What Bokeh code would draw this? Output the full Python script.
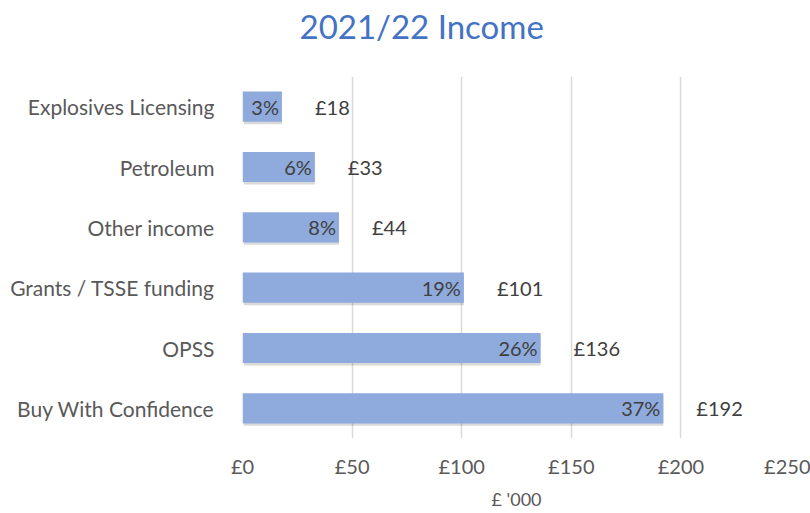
from bokeh.plotting import figure
from bokeh.models import (FactorRange, Range1d, FixedTicker, ColumnDataSource, Title,
                          LinearAxis)
from bokeh.transform import dodge
from bokeh.core.properties import value
from bokeh.embed import file_html
from bokeh.resources import INLINE

categories = ["Explosives Licensing", "Petroleum", "Other income",
              "Grants / TSSE funding", "OPSS", "Buy With Confidence"]
income = [18, 33, 44, 101, 136, 192]
shares = ["3%", "6%", "8%", "19%", "26%", "37%"]
value_labels = ["£18", "£33", "£44", "£101", "£136", "£192"]
tick_values = [0, 50, 100, 150, 200, 250]
tick_labels = ["£0", "£50", "£100", "£150", "£200", "£250"]
title_text = "2021/22 Income"
axis_title = "£ '000"

FONT = "Lato"
src = ColumnDataSource(dict(cat=categories, income=income, share=shares, vlab=value_labels))

p = figure(width=810, height=513,
           y_range=FactorRange(factors=categories[::-1]),
           x_range=Range1d(0, 250),
           output_backend="svg", toolbar_location=None,
           min_border_left=242, min_border_right=20,
           min_border_top=76, min_border_bottom=75)
p.outline_line_color = None
p.background_fill_color = "white"

# shadow
p.hbar(y=dodge("cat", -0.04, range=p.y_range), left=0.6, right="income", height=0.5,
       source=src, fill_color="#000000", fill_alpha=0.15, line_color=None)
p.hbar(y="cat", left=0, right="income", height=0.5, source=src,
       fill_color="#8FAADC", line_color=None)

p.text(x="income", y="cat", text="share", source=src, x_offset=-3,
       text_align="right", text_baseline="middle", text_font=value(FONT),
       text_font_size="20px", text_color="#404040")
p.text(x="income", y="cat", text="vlab", source=src, x_offset=33,
       text_align="left", text_baseline="middle", text_font=value(FONT),
       text_font_size="20px", text_color="#404040")

p.xaxis.ticker = FixedTicker(ticks=tick_values)
p.xaxis.major_label_overrides = {v: l for v, l in zip(tick_values, tick_labels)}
for ax in (p.xaxis, p.yaxis):
    ax.axis_line_color = None
    ax.major_tick_line_color = None
    ax.minor_tick_line_color = None
    ax.major_label_text_font = FONT
    ax.major_label_text_color = "#595959"
p.xaxis.major_label_text_font_size = "20px"
p.yaxis.major_label_text_font_size = "21px"
p.xaxis.major_label_standoff = 9
p.yaxis.major_label_standoff = 22

p.xaxis.axis_label = axis_title
p.xaxis.axis_label_text_font = FONT
p.xaxis.axis_label_text_font_size = "18px"
p.xaxis.axis_label_text_font_style = "normal"
p.xaxis.axis_label_text_color = "#595959"
p.xaxis.axis_label_standoff = 7

p.ygrid.grid_line_color = None
p.xgrid.grid_line_color = "#D9D9D9"
p.xgrid.grid_line_width = 1.5

# invisible axis above the frame: acts as spacer below the title
spacer = LinearAxis(ticker=FixedTicker(ticks=[]), axis_line_color=None,
                    major_tick_line_color=None, minor_tick_line_color=None,
                    major_tick_out=0, minor_tick_out=0, major_label_standoff=0,
                    axis_label=".", axis_label_text_alpha=0,
                    axis_label_text_font_size="10px", axis_label_standoff=20)
p.add_layout(spacer, "above")

p.add_layout(Title(text=title_text, align="left", offset=57, standoff=0,
                   text_font=FONT, text_font_size="33px", text_font_style="normal",
                   text_color="#4472C4"), "above")

open("out.html", "w").write(file_html(p, INLINE))
